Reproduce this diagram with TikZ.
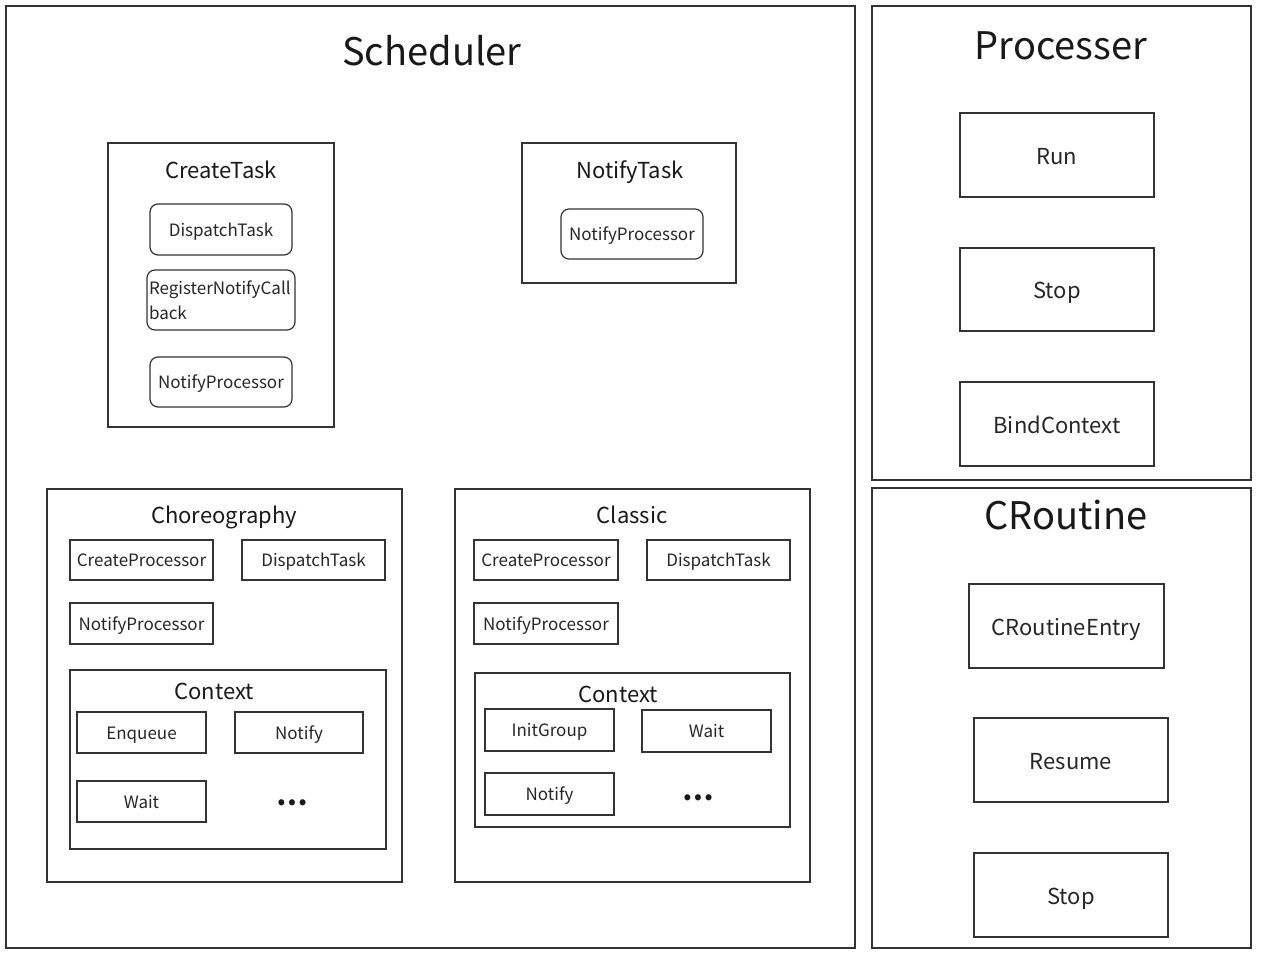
\documentclass[tikz,border=0pt]{standalone}
\usepackage{fontspec}
\setmainfont{Noto Sans CJK SC}
\newcommand\bx[7]{\node[#1, minimum width={(#5-#3)*0.75pt}, minimum height={(#6-#4)*0.75pt}] (#2) at ({(#3+#5)/2},{(#4+#6)/2}) {#7};}
\tikzset{
  base/.style={draw=black!80, line width=0.9pt, inner sep=0pt, outer sep=0pt, text=black!85},
  outerbox/.style={base},
  group/.style={base},
  item/.style={base, font=\fontsize{12.75}{15}\selectfont, text height=12.5pt, text depth=2.3pt},
  ritem/.style={item, rounded corners=6pt},
  bigitem/.style={base, font=\fontsize{16.5}{20}\selectfont, text height=16pt, text depth=2.4pt},
  bigtitle/.style={inner sep=0pt, text=black!90, font=\fontsize{28.5}{34}\selectfont, text height=24.2pt, text depth=4.3pt},
  gtitle/.style={inner sep=0pt, text=black!90, font=\fontsize{16.5}{20}\selectfont, text height=14.5pt, text depth=2.5pt},
  dots/.style={inner sep=0pt, text=black!90, font=\fontsize{21}{25}\bfseries},
}
\begin{document}
\begin{tikzpicture}[x=0.75pt,y=-0.75pt]
\useasboundingbox (0,0) rectangle (1265,955);
% outer boxes
\bx{outerbox}{sched}{6}{6}{855}{948}{}
\bx{outerbox}{proc}{872}{6}{1251}{480}{}
\bx{outerbox}{crout}{872}{488}{1251}{948}{}
\node[bigtitle] (schedT) at (432,52) {Scheduler};
\node[bigtitle] (procT) at (1061,46) {Processer};
\node[bigtitle] (croutT) at (1066,516) {CRoutine};
% CreateTask
\bx{group}{ct}{108}{143}{334}{427}{}
\node[gtitle] (ctT) at (221,171) {CreateTask};
\node[base, rounded corners=6pt, minimum width={148*0.75pt}, minimum height={60*0.75pt}, text width={144*0.75pt}, align=left, font=\fontsize{12.75}{18.5}\selectfont] (ctB) at (221,300) {RegisterNotifyCall\\back};
\bx{ritem}{ctA}{150}{204}{292}{255}{DispatchTask}
\bx{ritem}{ctC}{150}{357}{292}{407}{NotifyProcessor}
% NotifyTask
\bx{group}{nt}{522}{143}{736}{283}{}
\node[gtitle] (ntT) at (630,171) {NotifyTask};
\bx{ritem}{ntA}{561}{209}{703}{259}{NotifyProcessor}
% Choreography
\bx{group}{ch}{47}{489}{402}{882}{}
\node[gtitle] (chT) at (224,516) {Choreography};
\bx{item}{chA}{70}{540}{213}{580}{CreateProcessor}
\bx{item}{chB}{242}{540}{385}{580}{DispatchTask}
\bx{item}{chC}{70}{603}{213}{644}{NotifyProcessor}
\bx{group}{chX}{70}{670}{386}{849}{}
\node[gtitle] (chXT) at (214,691) {Context};
\bx{item}{chX1}{77}{712}{206}{753}{Enqueue}
\bx{item}{chX2}{235}{712}{363}{753}{Notify}
\bx{item}{chX3}{77}{781}{206}{822}{Wait}
\node[dots] (chXd) at (292,803) {…};
% Classic
\bx{group}{cl}{455}{489}{810}{882}{}
\node[gtitle] (clT) at (632,516) {Classic};
\bx{item}{clA}{474}{540}{618}{580}{CreateProcessor}
\bx{item}{clB}{647}{540}{790}{580}{DispatchTask}
\bx{item}{clC}{474}{603}{618}{644}{NotifyProcessor}
\bx{group}{clX}{475}{673}{790}{827}{}
\node[gtitle] (clXT) at (618,694) {Context};
\bx{item}{clX1}{485}{709}{614}{751}{InitGroup}
\bx{item}{clX2}{642}{710}{771}{752}{Wait}
\bx{item}{clX3}{485}{773}{614}{815}{Notify}
\node[dots] (clXd) at (698,798) {…};
% Processer items
\bx{bigitem}{pRun}{960}{113}{1154}{197}{Run}
\bx{bigitem}{pStop}{960}{248}{1154}{331}{Stop}
\bx{bigitem}{pBind}{960}{382}{1154}{466}{BindContext}
% CRoutine items
\bx{bigitem}{cEntry}{969}{584}{1164}{668}{CRoutineEntry}
\bx{bigitem}{cRes}{974}{718}{1168}{802}{Resume}
\bx{bigitem}{cStop}{974}{853}{1168}{937}{Stop}
\end{tikzpicture}
\end{document}
